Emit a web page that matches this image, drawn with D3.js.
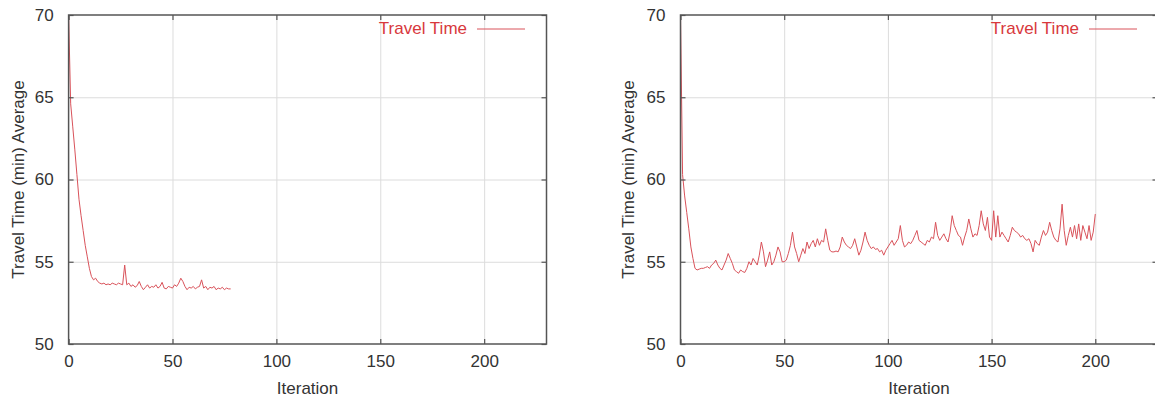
<!DOCTYPE html>
<html>
<head>
<meta charset="utf-8">
<script src="https://cdn.jsdelivr.net/npm/d3@7"></script>
<style>
  html, body { margin: 0; padding: 0; background: #fff; }
  svg { display: block; }
  text { font-family: "Liberation Sans", Arial, Helvetica, sans-serif; }
</style>
</head>
<body>
<svg id="chart" width="1155" height="401"></svg>
<script>
// ---- data ----
const xTicks = [0, 50, 100, 150, 200];
const yTicks = [50, 55, 60, 65, 70];
const xDomain = [0, 230];
const yDomain = [50, 70];
const seriesName = "Travel Time";
const xLabel = "Iteration";
const yLabel = "Travel Time (min) Average";

// Left panel: iterations 0..78
const leftValues = [
  70.0, 64.6, 63.2, 61.8, 60.3, 58.8, 57.8, 56.9, 56.0, 55.3,
  54.6, 54.1, 53.9, 54.0, 53.8, 53.7, 53.65, 53.7, 53.6, 53.65,
  53.6, 53.7, 53.65, 53.6, 53.7, 53.65, 53.6, 54.8, 53.6, 53.7,
  53.5, 53.6, 53.45, 53.55, 53.8, 53.5, 53.3, 53.45, 53.6, 53.4,
  53.5, 53.45, 53.6, 53.4, 53.5, 53.75, 53.4, 53.35, 53.5, 53.45,
  53.4, 53.6, 53.5, 53.7, 54.0, 53.8, 53.5, 53.3, 53.45, 53.4,
  53.5, 53.35, 53.45, 53.5, 53.9, 53.4, 53.5, 53.3, 53.45, 53.4,
  53.5, 53.3, 53.4, 53.35, 53.45, 53.3, 53.4, 53.35, 53.35
];

// Right panel: iterations 0..200
const rightValues = [
  70.0, 60.3, 59.0, 58.0, 57.0, 55.9, 55.2, 54.6, 54.5, 54.55,
  54.6, 54.6, 54.65, 54.7, 54.6, 54.8, 54.9, 55.1, 54.8, 54.6,
  54.5, 54.8, 55.1, 55.5, 55.2, 54.9, 54.5, 54.4, 54.3, 54.5,
  54.4, 54.35, 54.6, 55.0, 54.8, 55.2, 55.0, 54.8, 55.4, 56.2,
  55.6, 54.7, 55.1, 55.6, 54.8, 55.0, 55.4, 55.9, 55.6, 55.0,
  55.0, 55.1, 55.5, 56.0, 56.8, 55.9, 55.5, 55.0, 55.4, 55.8,
  55.5, 56.2, 55.8, 56.1, 56.3, 55.9, 56.4, 56.0, 56.3, 56.2,
  57.0, 56.3, 55.7, 55.6, 55.6, 55.65, 55.6, 55.9, 56.5, 56.2,
  56.0, 55.9, 55.8, 56.0, 56.4, 55.9, 55.4, 55.7, 56.2, 56.8,
  56.3, 56.0, 55.8, 55.9, 55.75, 55.8, 55.6, 55.7, 55.4, 55.7,
  55.9, 56.1, 56.3, 56.0, 56.2, 56.4, 57.2, 56.3, 55.9, 56.0,
  56.2, 56.1, 56.3, 56.6, 56.9, 56.3, 56.2, 56.1, 56.0, 56.3,
  56.2, 56.5, 56.4, 57.4, 56.6, 56.3, 56.5, 56.7, 56.4, 56.2,
  56.8, 57.8, 57.2, 56.9, 56.6, 56.5, 56.0, 56.5, 56.9, 57.6,
  57.0, 56.5, 56.7, 56.6, 57.2, 58.1, 57.3, 56.9, 57.7, 56.5,
  56.3, 58.1, 56.5, 57.8, 56.5, 56.8, 56.6, 56.4, 56.2, 56.6,
  57.1, 56.9, 56.8, 56.7, 56.5, 56.6, 56.4, 56.3, 56.4, 56.1,
  55.6, 56.3, 56.1, 56.0, 56.5, 56.9, 56.6, 56.8, 57.4, 56.9,
  56.5, 56.3, 56.2, 57.0, 58.5, 56.9, 56.0, 56.6, 57.1, 56.5,
  57.2, 56.4, 57.3, 56.3, 57.2, 56.8, 56.4, 57.2, 56.3, 56.8,
  57.9
];

// ---- drawing ----
const svg = d3.select("#chart");
const plotTop = 15, plotBottom = 344;
const fontSize = 17;
const lineColor = "#d9525a";
const legendColor = "#d8383c";
const textColor = "#333";

function panel(values, left, right, ylabX, legendEnd) {
  const x = d3.scaleLinear().domain(xDomain).range([left, right]);
  const y = d3.scaleLinear().domain(yDomain).range([plotBottom, plotTop]);
  const g = svg.append("g");
  const h = plotBottom - plotTop, w = right - left;

  // grid
  g.append("g")
    .attr("transform", `translate(0,${plotBottom})`)
    .call(d3.axisBottom(x).tickValues(xTicks.filter(v => v > xDomain[0])).tickSize(-h).tickFormat(""))
    .call(a => a.select(".domain").remove())
    .call(a => a.selectAll("line").attr("stroke", "#dcdcdc").attr("stroke-width", 1));
  g.append("g")
    .attr("transform", `translate(${left},0)`)
    .call(d3.axisLeft(y).tickValues(yTicks.filter(v => v > yDomain[0] && v < yDomain[1])).tickSize(-w).tickFormat(""))
    .call(a => a.select(".domain").remove())
    .call(a => a.selectAll("line").attr("stroke", "#dcdcdc").attr("stroke-width", 1));

  // data line
  const line = d3.line().x((d, i) => x(i)).y(d => y(d));
  g.append("path")
    .datum(values)
    .attr("d", line)
    .attr("fill", "none")
    .attr("stroke", lineColor)
    .attr("stroke-width", 1);

  // axes with inward ticks
  const styleAxis = a => {
    a.select(".domain").remove();
    a.selectAll("line").attr("stroke", "#555").attr("stroke-width", 1.2);
    a.selectAll("text").attr("fill", textColor).style("font-size", fontSize + "px")
      .attr("font-family", "Liberation Sans, Arial, sans-serif");
  };
  g.append("g").attr("transform", `translate(0,${plotBottom})`)
    .call(d3.axisBottom(x).tickValues(xTicks).tickSizeInner(-5).tickPadding(11).tickFormat(d3.format("d")))
    .call(styleAxis);
  g.append("g").attr("transform", `translate(0,${plotTop})`)
    .call(d3.axisTop(x).tickValues(xTicks).tickSizeInner(-5).tickFormat(""))
    .call(styleAxis);
  g.append("g").attr("transform", `translate(${left},0)`)
    .call(d3.axisLeft(y).tickValues(yTicks).tickSizeInner(-5).tickPadding(15).tickFormat(d3.format("d")))
    .call(styleAxis);
  g.append("g").attr("transform", `translate(${right},0)`)
    .call(d3.axisRight(y).tickValues(yTicks).tickSizeInner(-5).tickFormat(""))
    .call(styleAxis);

  // border
  g.append("rect")
    .attr("x", left).attr("y", plotTop).attr("width", w).attr("height", h)
    .attr("fill", "none").attr("stroke", "#555").attr("stroke-width", 1.5);

  // axis labels
  g.append("text")
    .attr("x", (left + right) / 2).attr("y", 394)
    .attr("text-anchor", "middle").attr("fill", textColor)
    .style("font-size", fontSize + "px").text(xLabel);
  g.append("text")
    .attr("transform", `translate(${ylabX},${(plotTop + plotBottom) / 2}) rotate(-90)`)
    .attr("text-anchor", "middle").attr("fill", textColor)
    .style("font-size", fontSize + "px").text(yLabel);

  // legend
  g.append("text")
    .attr("x", legendEnd).attr("y", 34)
    .attr("text-anchor", "end").attr("fill", legendColor)
    .style("font-size", fontSize + "px").text(seriesName);
  g.append("line")
    .attr("x1", legendEnd + 10).attr("x2", legendEnd + 58)
    .attr("y1", 29).attr("y2", 29)
    .attr("stroke", lineColor).attr("stroke-width", 1);
}

panel(leftValues, 68.6, 546.5, 24, 467);
panel(rightValues, 680.5, 1157.5, 634, 1079);
</script>
</body>
</html>
